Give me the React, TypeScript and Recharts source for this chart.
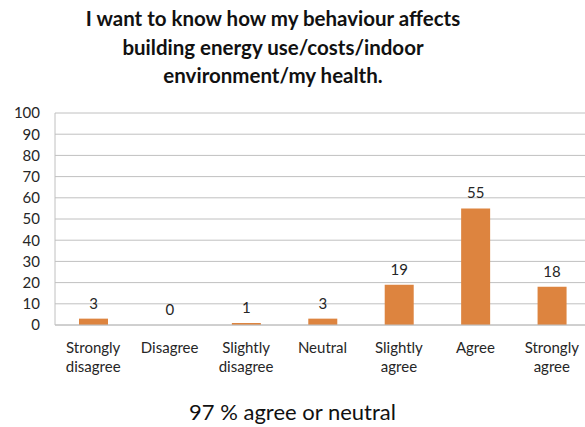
import { BarChart, Bar, XAxis, YAxis, CartesianGrid, LabelList } from 'recharts';

const categories = [
  'Strongly disagree',
  'Disagree',
  'Slightly disagree',
  'Neutral',
  'Slightly agree',
  'Agree',
  'Strongly agree',
];
const categoryLines = [
  ['Strongly', 'disagree'],
  ['Disagree'],
  ['Slightly', 'disagree'],
  ['Neutral'],
  ['Slightly', 'agree'],
  ['Agree'],
  ['Strongly', 'agree'],
];
const responses = [3, 0, 1, 3, 19, 55, 18];
const yTicks = [0, 10, 20, 30, 40, 50, 60, 70, 80, 90, 100];

const titleLines = [
  'I want to know how my behaviour affects',
  'building energy use/costs/indoor',
  'environment/my health.',
];
const footnote = '97 % agree or neutral';

const FONT = 'Lato, "Open Sans", sans-serif';
const BAR = '#dd843f';
const GRID = '#c0c0c0';
const TEXT = '#262626';

const chartData = categories.map((name, i) => ({ name, value: responses[i] }));

function CategoryTick(props: any) {
  const { x, y, payload } = props;
  const lines = categoryLines[payload.index] ?? [payload.value];
  return (
    <g transform={`translate(${x},${y})`}>
      {lines.map((line, i) => (
        <text
          key={i}
          x={0}
          y={i * 19}
          dy={20}
          textAnchor="middle"
          fontSize={15}
          fontFamily={FONT}
          fill={TEXT}
        >
          {line}
        </text>
      ))}
    </g>
  );
}

// value label drawn for every bar, including zero-height ones
function ValueLabel(props: any) {
  const { x, y, width, value } = props;
  return (
    <text
      x={x + width / 2}
      y={y - 10}
      textAnchor="middle"
      fontSize={15}
      fontFamily={FONT}
      fill={TEXT}
    >
      {value}
    </text>
  );
}

export default function App() {
  return (
    <div
      style={{
        position: 'absolute',
        left: 0,
        top: 0,
        width: 585,
        height: 427,
        overflow: 'hidden',
        background: '#fff',
        fontFamily: FONT,
      }}
    >
      <div
        style={{
          position: 'absolute',
          left: 0,
          top: 4,
          width: 546,
          textAlign: 'center',
          fontSize: 20.5,
          fontWeight: 700,
          lineHeight: '28.5px',
          color: '#111',
        }}
      >
        {titleLines.map((t) => (
          <div key={t}>{t}</div>
        ))}
      </div>
      <div style={{ position: 'absolute', left: 0, top: 0 }}>
        <BarChart
          width={600}
          height={427}
          data={chartData}
          margin={{ top: 113, right: 10, bottom: 0, left: 0 }}
          barCategoryGap={0}
        >
          <CartesianGrid vertical={false} stroke={GRID} />
          <XAxis
            dataKey="name"
            axisLine={{ stroke: GRID }}
            tickLine={false}
            tick={<CategoryTick />}
            interval={0}
            height={102}
          />
          <YAxis
            domain={[0, 100]}
            ticks={yTicks}
            width={55}
            axisLine={{ stroke: GRID }}
            tickLine={false}
            tickSize={0}
            tickMargin={15}
            tick={{ fontSize: 15, fontFamily: FONT, fill: TEXT }}
            interval={0}
          />
          <Bar
            dataKey="value"
            fill={BAR}
            barSize={29}
            minPointSize={0.01}
            isAnimationActive={false}
          >
            <LabelList dataKey="value" content={<ValueLabel />} />
          </Bar>
        </BarChart>
      </div>
      <div
        style={{
          position: 'absolute',
          left: 0,
          top: 398,
          width: 585,
          textAlign: 'center',
          fontSize: 22,
          color: '#111',
        }}
      >
        {footnote}
      </div>
    </div>
  );
}
